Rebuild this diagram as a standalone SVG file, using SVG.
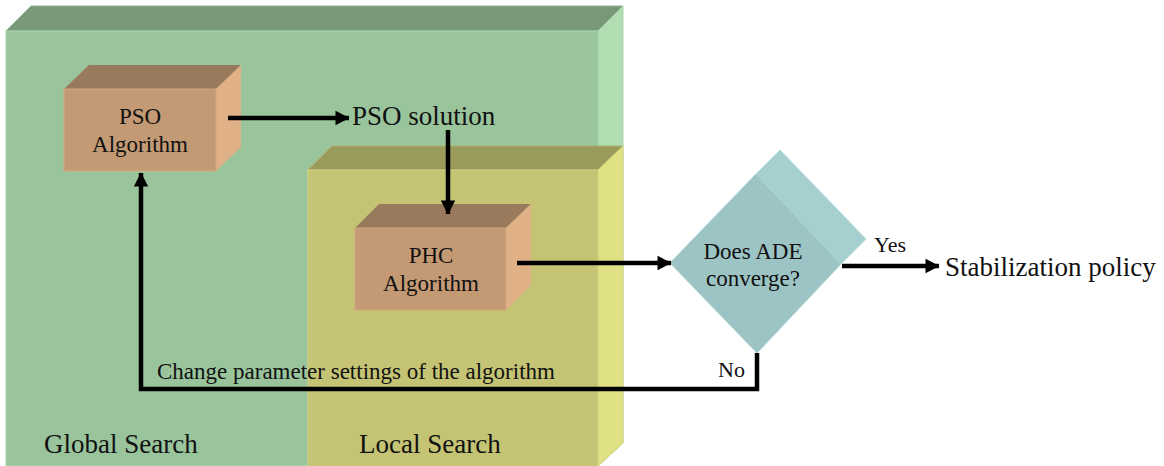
<svg xmlns="http://www.w3.org/2000/svg" width="1164" height="466" viewBox="0 0 1164 466">
  <defs>
    <marker id="arrow" markerUnits="userSpaceOnUse" markerWidth="16" markerHeight="16" viewBox="0 0 16 16" refX="14" refY="8" orient="auto">
      <path d="M0.5,0.8 L14.5,8 L0.5,15.2 Z" fill="#000"/>
    </marker>
  </defs>
  <style>
    text { font-family: "Liberation Serif", "Times New Roman", serif; fill: #111; }
    .lbl { font-size: 23px; text-anchor: middle; }
    .big { font-size: 27px; }
    .small { font-size: 22px; }
    .link { fill: none; stroke: #000; stroke-width: 4.5; stroke-linejoin: miter; }
    .edge { stroke-width: 1; }
  </style>

  <rect width="1164" height="466" fill="#ffffff"/>

  <!-- Global search region (3D slab) -->
  <g id="global-search">
    <polygon points="6,31 31,6 623,6 598,31" fill="#79987a" stroke="#8fb391" class="edge"/>
    <polygon points="598,31 623,6 623,443 598,466" fill="#b0deb2" stroke="#a9d4ab" class="edge"/>
    <rect x="6" y="31" width="592" height="435" fill="#9ac49c" stroke="#a9d2aa" class="edge"/>
    <text class="big" x="44" y="453">Global Search</text>
  </g>

  <!-- Local search region (3D slab) -->
  <g id="local-search">
    <polygon points="308,170 332,146 623,146 598,170" fill="#9a9a5a" stroke="#b0b06c" class="edge"/>
    <polygon points="598,170 623,146 623,443 598,466" fill="#e0e084" stroke="#d4d47c" class="edge"/>
    <rect x="308" y="170" width="290" height="300" fill="#c4c474" stroke="#d2d280" class="edge"/>
    <text class="big" x="359" y="453">Local Search</text>
  </g>

  <!-- PSO algorithm block -->
  <g id="pso-algorithm">
    <polygon points="64,89 89,65 241,65 216,89" fill="#9a7a5c"/>
    <polygon points="216,89 241,65 241,147 216,171" fill="#e0b086"/>
    <rect x="64" y="89" width="152" height="82" fill="#c49a74" stroke="#d3a880" class="edge"/>
    <text class="lbl" x="140" y="124">PSO</text>
    <text class="lbl" x="140" y="152">Algorithm</text>
  </g>

  <!-- PHC algorithm block -->
  <g id="phc-algorithm">
    <polygon points="355,228 379,204 531,204 506,228" fill="#9a7a5c"/>
    <polygon points="506,228 531,204 531,285 506,310" fill="#e0b086"/>
    <rect x="355" y="228" width="151" height="82" fill="#c49a74" stroke="#d3a880" class="edge"/>
    <text class="lbl" x="431" y="263">PHC</text>
    <text class="lbl" x="431" y="291">Algorithm</text>
  </g>

  <!-- Convergence decision -->
  <g id="ade-decision">
    <polygon points="756,174 780,150 866,239 841,264" fill="#a6d0d0" stroke="#b4dcdc" class="edge"/>
    <polygon points="670,263 756,174 841,264 757,353" fill="#9cc4c4" stroke="#aad2d2" class="edge"/>
    <text class="lbl" x="753" y="259">Does ADE</text>
    <text class="lbl" x="753" y="286">converge?</text>
  </g>

  <!-- Free-standing labels -->
  <g id="pso-solution">
    <text class="big" x="352" y="125">PSO solution</text>
  </g>
  <g id="stabilization-policy">
    <text class="big" x="945" y="276">Stabilization policy</text>
  </g>

  <!-- Connectors -->
  <g id="connectors">
    <line class="link" x1="228" y1="118" x2="349" y2="118" marker-end="url(#arrow)"/>
    <line class="link" x1="448" y1="130" x2="448" y2="214" marker-end="url(#arrow)"/>
    <line class="link" x1="517" y1="263" x2="671" y2="263" marker-end="url(#arrow)"/>
    <line class="link" x1="842" y1="266" x2="939" y2="266" marker-end="url(#arrow)"/>
    <polyline class="link" points="757,353 757,389 141,389 141,173" marker-end="url(#arrow)"/>
    <text class="small" x="874" y="252">Yes</text>
    <text class="small" x="718" y="377">No</text>
    <text class="lbl" x="157" y="379" style="text-anchor:start">Change parameter settings of the algorithm</text>
  </g>
</svg>
